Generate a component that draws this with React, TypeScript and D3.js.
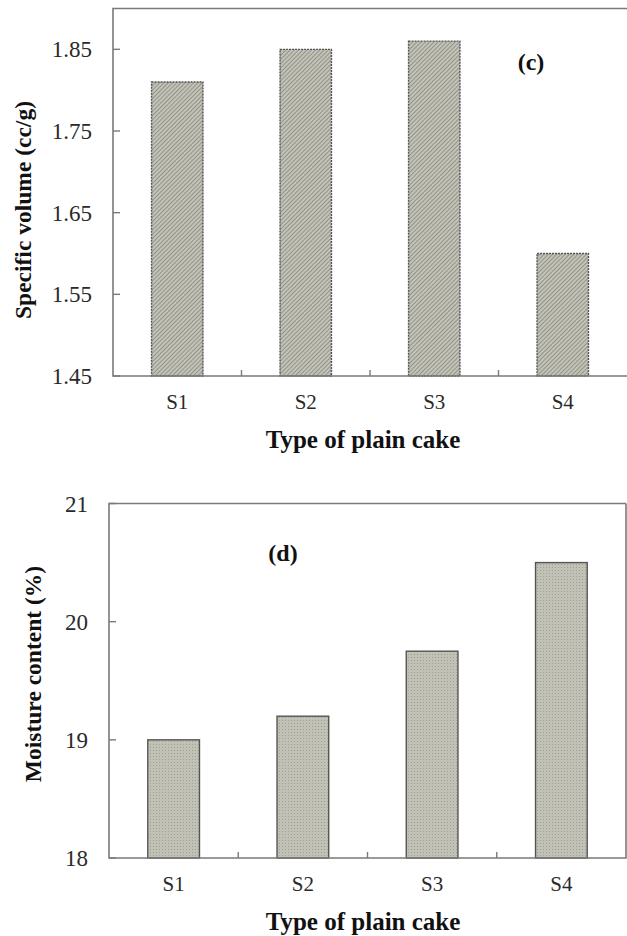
import React, { useEffect, useRef } from "react";
import * as d3 from "d3";

// data
const cakes = ["S1", "S2", "S3", "S4"];
const specificVolume = [1.81, 1.85, 1.86, 1.6];
const volumeTicks = [1.45, 1.55, 1.65, 1.75, 1.85];
const moisture = [19.0, 19.2, 19.75, 20.5];
const moistureTicks = [18, 19, 20, 21];

const W = 627;
const H = 936;
const FONT = '"Liberation Serif", "Times New Roman", Times, serif';

type Panel = {
    values: number[];
    ticks: number[];
    domain: [number, number];
    top: number;
    bottom: number;
    left: number;
    right: number;
    fill: string;
    dashed: boolean;
    rightBorder: boolean;
    yTitle: string;
    yTitleX: number;
    yTitleY: number;
    tag: string;
    tagX: number;
    tagY: number;
    fmt: (v: number) => string;
};

const panels: Panel[] = [
    {
        values: specificVolume,
        ticks: volumeTicks,
        domain: [1.45, 1.9],
        top: 8.5,
        bottom: 376,
        left: 113,
        right: 627,
        fill: "url(#hatch)",
        dashed: true,
        rightBorder: false,
        yTitle: "Specific volume (cc/g)",
        yTitleX: 31,
        yTitleY: 210,
        tag: "(c)",
        tagX: 531,
        tagY: 70,
        fmt: d3.format(".2f"),
    },
    {
        values: moisture,
        ticks: moistureTicks,
        domain: [18, 21],
        top: 503.5,
        bottom: 858,
        left: 109,
        right: 626,
        fill: "url(#dots)",
        dashed: false,
        rightBorder: true,
        yTitle: "Moisture content (%)",
        yTitleX: 41,
        yTitleY: 674,
        tag: "(d)",
        tagX: 283,
        tagY: 561,
        fmt: d3.format("d"),
    },
];

const App = () => {
    const svgRef = useRef<SVGSVGElement>(null);

    useEffect(() => {
        const svg = d3.select(svgRef.current);
        svg.selectAll("*").remove();

        const defs = svg.append("defs");
        // diagonal hatch for panel (c)
        const hatch = defs
            .append("pattern")
            .attr("id", "hatch")
            .attr("patternUnits", "userSpaceOnUse")
            .attr("width", 3)
            .attr("height", 3)
            .attr("patternTransform", "rotate(45)");
        hatch.append("rect").attr("width", 3).attr("height", 3).attr("fill", "#c4c3b8");
        hatch.append("rect").attr("width", 1).attr("height", 3).attr("fill", "#94938a");

        // fine dotted grid for panel (d)
        const dots = defs
            .append("pattern")
            .attr("id", "dots")
            .attr("patternUnits", "userSpaceOnUse")
            .attr("width", 3)
            .attr("height", 3);
        dots.append("rect").attr("width", 3).attr("height", 3).attr("fill", "#c2c1b5");
        dots.append("rect").attr("width", 1).attr("height", 1).attr("fill", "#a09f95");

        panels.forEach((p) => {
            const g = svg.append("g");
            const x = d3.scaleBand().domain(cakes).range([p.left, p.right]).paddingInner(0.6).paddingOuter(0.3);
            const band = d3.scaleBand().domain(cakes).range([p.left, p.right]);
            const y = d3.scaleLinear().domain(p.domain).range([p.bottom, p.top]);

            // bars
            g.selectAll("rect.bar")
                .data(p.values)
                .join("rect")
                .attr("class", "bar")
                .attr("x", (d, i) => x(cakes[i]) as number)
                .attr("width", x.bandwidth())
                .attr("y", (d) => y(d))
                .attr("height", (d) => y(p.domain[0]) - y(d))
                .attr("fill", p.fill)
                .attr("stroke", "#555")
                .attr("stroke-width", 1.4)
                .attr("stroke-dasharray", p.dashed ? "2,1" : null);

            // frame
            const frame = d3.path();
            frame.moveTo(p.right, p.top);
            frame.lineTo(p.left, p.top);
            frame.lineTo(p.left, p.bottom);
            frame.lineTo(p.right, p.bottom);
            if (p.rightBorder) frame.lineTo(p.right, p.top);
            g.append("path")
                .attr("d", frame.toString())
                .attr("fill", "none")
                .attr("stroke", "#7a7a7a")
                .attr("stroke-width", 1.6);

            // y ticks (inward) and labels
            g.selectAll("line.yt")
                .data(p.ticks)
                .join("line")
                .attr("x1", p.left)
                .attr("x2", p.left + 7)
                .attr("y1", (d) => y(d))
                .attr("y2", (d) => y(d))
                .attr("stroke", "#7a7a7a")
                .attr("stroke-width", 1.4);
            g.selectAll("text.yl")
                .data(p.ticks)
                .join("text")
                .attr("x", p.left - 21)
                .attr("y", (d) => y(d))
                .attr("dy", "0.35em")
                .attr("text-anchor", "end")
                .style("font-family", FONT)
                .attr("font-size", 23)
                .attr("fill", "#2a2a2a")
                .text((d) => p.fmt(d));

            // x ticks between categories
            g.selectAll("line.xt")
                .data(cakes.slice(1))
                .join("line")
                .attr("x1", (d) => band(d) as number)
                .attr("x2", (d) => band(d) as number)
                .attr("y1", p.bottom)
                .attr("y2", p.bottom - 6)
                .attr("stroke", "#7a7a7a")
                .attr("stroke-width", 1.4);
            g.selectAll("text.xl")
                .data(cakes)
                .join("text")
                .attr("x", (d) => (band(d) as number) + band.bandwidth() / 2)
                .attr("y", p.bottom + 33)
                .attr("text-anchor", "middle")
                .style("font-family", FONT)
                .attr("font-size", 21)
                .attr("fill", "#2a2a2a")
                .text((d) => d);

            // axis titles
            g.append("text")
                .attr("x", 363)
                .attr("y", p.bottom + 72)
                .attr("text-anchor", "middle")
                .style("font-family", FONT)
                .attr("font-weight", "bold")
                .attr("font-size", 25)
                .attr("fill", "#111")
                .text("Type of plain cake");
            g.append("text")
                .attr("transform", `translate(${p.yTitleX},${p.yTitleY}) rotate(-90)`)
                .attr("text-anchor", "middle")
                .style("font-family", FONT)
                .attr("font-weight", "bold")
                .attr("font-size", 23.5)
                .attr("fill", "#111")
                .text(p.yTitle);

            // panel tag
            g.append("text")
                .attr("x", p.tagX)
                .attr("y", p.tagY)
                .attr("text-anchor", "middle")
                .style("font-family", FONT)
                .attr("font-weight", "bold")
                .attr("font-size", 24)
                .attr("fill", "#111")
                .text(p.tag);
        });
    }, []);

    return (
        <svg
            ref={svgRef}
            width={W}
            height={H}
            style={{ position: "absolute", left: 0, top: 0, background: "#fff" }}
        ></svg>
    );
};

export default App;
